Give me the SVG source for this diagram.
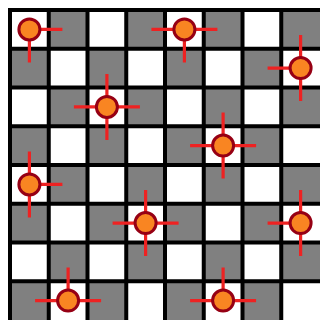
<svg xmlns="http://www.w3.org/2000/svg" width="320" height="320" viewBox="0 0 320 320">
<style>
.w{fill:#ffffff}
.g{fill:#808080}
.gl{stroke:#000000;stroke-width:4;fill:none}
.arm{stroke:#ee2222;stroke-width:3.2;fill:none}
.q{fill:#f98522;stroke:#960014;stroke-width:3}
</style>
<rect x="0" y="0" width="320" height="320" fill="#ffffff"/>
<g id="board">
<rect x="10" y="10" width="310" height="310" class="w"/>
<g class="g">
<rect x="48.75" y="10" width="38.75" height="38.75"/><rect x="126.25" y="10" width="38.75" height="38.75"/><rect x="203.75" y="10" width="38.75" height="38.75"/><rect x="281.25" y="10" width="38.75" height="38.75"/>
<rect x="10" y="48.75" width="38.75" height="38.75"/><rect x="87.5" y="48.75" width="38.75" height="38.75"/><rect x="165" y="48.75" width="38.75" height="38.75"/><rect x="242.5" y="48.75" width="38.75" height="38.75"/>
<rect x="48.75" y="87.5" width="38.75" height="38.75"/><rect x="126.25" y="87.5" width="38.75" height="38.75"/><rect x="203.75" y="87.5" width="38.75" height="38.75"/><rect x="281.25" y="87.5" width="38.75" height="38.75"/>
<rect x="10" y="126.25" width="38.75" height="38.75"/><rect x="87.5" y="126.25" width="38.75" height="38.75"/><rect x="165" y="126.25" width="38.75" height="38.75"/><rect x="242.5" y="126.25" width="38.75" height="38.75"/>
<rect x="48.75" y="165" width="38.75" height="38.75"/><rect x="126.25" y="165" width="38.75" height="38.75"/><rect x="203.75" y="165" width="38.75" height="38.75"/><rect x="281.25" y="165" width="38.75" height="38.75"/>
<rect x="10" y="203.75" width="38.75" height="38.75"/><rect x="87.5" y="203.75" width="38.75" height="38.75"/><rect x="165" y="203.75" width="38.75" height="38.75"/><rect x="242.5" y="203.75" width="38.75" height="38.75"/>
<rect x="48.75" y="242.5" width="38.75" height="38.75"/><rect x="126.25" y="242.5" width="38.75" height="38.75"/><rect x="203.75" y="242.5" width="38.75" height="38.75"/><rect x="281.25" y="242.5" width="38.75" height="38.75"/>
<rect x="10" y="281.25" width="38.75" height="38.75"/><rect x="87.5" y="281.25" width="38.75" height="38.75"/><rect x="165" y="281.25" width="38.75" height="38.75"/><rect x="242.5" y="281.25" width="38.75" height="38.75"/>
</g>
<path class="gl" d="M10 8V320M48.75 8V320M87.5 8V320M126.25 8V320M165 8V320M203.75 8V320M242.5 8V320M281.25 8V320M8 10H320M8 48.75H320M8 87.5H320M8 126.25H320M8 165H320M8 203.75H320M8 242.5H320M8 281.25H320"/>
</g>
<g id="connectors" class="arm">
<path d="M29.4 29.4H62.4M29.4 29.4V62.4"/>
<path d="M151.4 29.4H217.4M184.4 29.4V62.4"/>
<path d="M267.6 68.1H300.6M300.6 35.1V101.1"/>
<path d="M73.9 106.9H139.9M106.9 73.9V139.9"/>
<path d="M190.1 145.6H256.1M223.1 112.6V178.6"/>
<path d="M29.4 184.4H62.4M29.4 151.4V217.4"/>
<path d="M112.6 223.1H178.6M145.6 190.1V256.1"/>
<path d="M267.6 223.1H300.6M300.6 190.1V256.1"/>
<path d="M35.1 300.6H101.1M68.1 267.6V300.6"/>
<path d="M190.1 300.6H256.1M223.1 267.6V300.6"/>
</g>
<g id="q1"><circle class="q" cx="29.4" cy="29.4" r="10.5"/></g>
<g id="q2"><circle class="q" cx="184.4" cy="29.4" r="10.5"/></g>
<g id="q3"><circle class="q" cx="300.6" cy="68.1" r="10.5"/></g>
<g id="q4"><circle class="q" cx="106.9" cy="106.9" r="10.5"/></g>
<g id="q5"><circle class="q" cx="223.1" cy="145.6" r="10.5"/></g>
<g id="q6"><circle class="q" cx="29.4" cy="184.4" r="10.5"/></g>
<g id="q7"><circle class="q" cx="145.6" cy="223.1" r="10.5"/></g>
<g id="q8"><circle class="q" cx="300.6" cy="223.1" r="10.5"/></g>
<g id="q9"><circle class="q" cx="68.1" cy="300.6" r="10.5"/></g>
<g id="q10"><circle class="q" cx="223.1" cy="300.6" r="10.5"/></g>
</svg>
